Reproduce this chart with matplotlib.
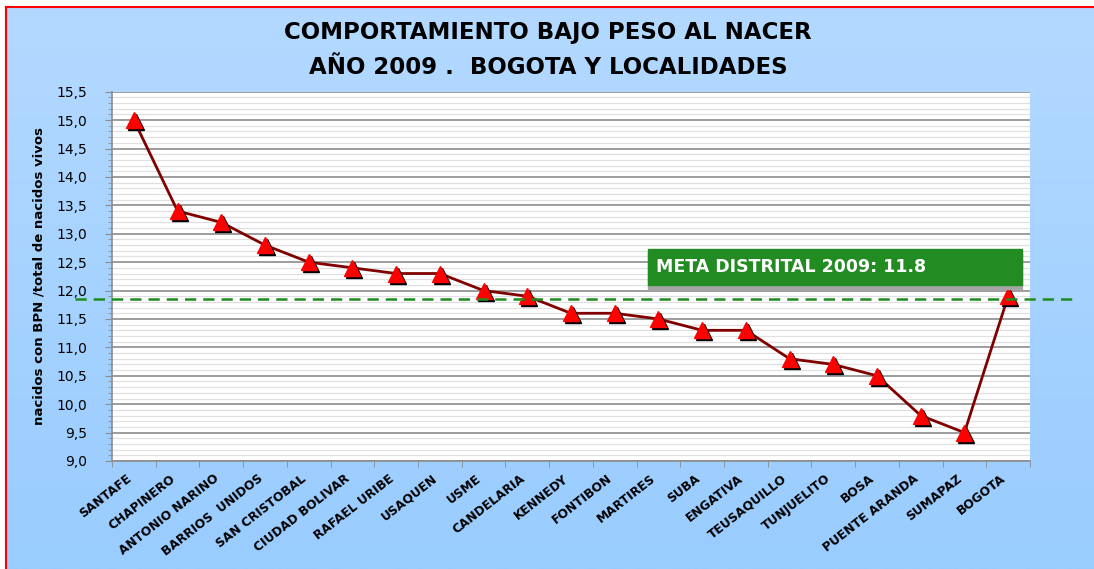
import numpy as np
import matplotlib
matplotlib.use('Agg')
import matplotlib.pyplot as plt
import matplotlib.transforms as mtransforms
from matplotlib.lines import Line2D
from matplotlib.patches import Rectangle

# data
localidades = ['SANTAFE', 'CHAPINERO', 'ANTONIO NARINO', 'BARRIOS  UNIDOS', 'SAN CRISTOBAL',
               'CIUDAD BOLIVAR', 'RAFAEL URIBE', 'USAQUEN', 'USME', 'CANDELARIA', 'KENNEDY',
               'FONTIBON', 'MARTIRES', 'SUBA', 'ENGATIVA', 'TEUSAQUILLO', 'TUNJUELITO', 'BOSA',
               'PUENTE ARANDA', 'SUMAPAZ', 'BOGOTA']
bpn = [15.0, 13.4, 13.2, 12.8, 12.5, 12.4, 12.3, 12.3, 12.0, 11.9, 11.6,
       11.6, 11.5, 11.3, 11.3, 10.8, 10.7, 10.5, 9.8, 9.5, 11.9]
meta = 11.85
meta_text = 'META DISTRITAL 2009: 11.8'
y_ticks = [9.0, 9.5, 10.0, 10.5, 11.0, 11.5, 12.0, 12.5, 13.0, 13.5, 14.0, 14.5, 15.0, 15.5]

W, H = 1094, 569
fig = plt.figure(figsize=(W / 100, H / 100), dpi=100, facecolor='white')

# background gradient
bg = fig.add_axes([6 / W, 0, 1 - 6 / W, 1 - 7 / H], zorder=-5)
grad = np.linspace(0, 1, 256).reshape(-1, 1)
cmap = matplotlib.colors.LinearSegmentedColormap.from_list('bg', ['#B3D9FF', '#99CCFF'])
bg.imshow(grad, aspect='auto', cmap=cmap, extent=[0, 1, 0, 1])
bg.set_axis_off()
fig.add_artist(Line2D([6 / W, 1.01], [1 - 6.5 / H, 1 - 6.5 / H], color='red', lw=1.5))
fig.add_artist(Line2D([6 / W, 6 / W], [-0.01, 1 - 6.5 / H], color='red', lw=1.5))

ax = fig.add_axes([112 / W, 1 - 461 / H, (1030 - 112) / W, (461 - 91.7) / H])
ax.set_facecolor('white')
x = np.arange(len(localidades))
ax.set_xlim(-0.5, len(localidades) - 0.5)
ax.set_ylim(9.0, 15.5)

# grid
ax.set_yticks(y_ticks)
ax.set_yticks(np.arange(9.0, 15.51, 0.1), minor=True)
ax.grid(True, which='major', axis='y', color='#8c8c8c', lw=1.2, zorder=0)
ax.grid(True, which='minor', axis='y', color='#e0e0e0', lw=0.9, zorder=0)
ax.set_axisbelow(True)
ax.set_yticklabels([f'{v:.1f}'.replace('.', ',') for v in y_ticks], fontsize=10)
ax.tick_params(axis='y', which='both', direction='out', color='#8c8c8c')
ax.tick_params(axis='y', which='major', length=5, pad=13)
ax.tick_params(axis='y', which='minor', length=3)

ax.set_xticks(x)
ax.set_xticks(np.arange(-0.5, len(localidades), 1.0), minor=True)
ax.set_xticklabels(localidades, rotation=38, ha='right', rotation_mode='anchor',
                   fontsize=8.8, fontweight='bold')
ax.tick_params(axis='x', which='major', length=0, pad=8)
ax.tick_params(axis='x', which='minor', length=4, color='#8c8c8c')
shift = mtransforms.ScaledTranslation(-8 / 100, 0, fig.dpi_scale_trans)
for lab in ax.get_xticklabels():
    lab.set_transform(lab.get_transform() + shift)

for s in ['top', 'right']:
    ax.spines[s].set_visible(False)
for s in ['left', 'bottom']:
    ax.spines[s].set_color('#8c8c8c')
    ax.spines[s].set_linewidth(1.2)

# series
ax.plot(x, bpn, color='#800000', lw=2, zorder=3)
shadow = mtransforms.offset_copy(ax.transData, fig=fig, x=2, y=-2, units='dots')
ax.plot(x, bpn, ls='none', marker='^', ms=12, color='black', transform=shadow, zorder=4)
ax.plot(x, bpn, ls='none', marker='^', ms=12, color='red', mec='red', zorder=5)

# meta line
ax.plot([-1.35, 21.46], [meta, meta], color='#1E8C1E', lw=1.8, ls=(0, (4.5, 2.8)),
        clip_on=False, zorder=6)

# green label box
bx0, bx1 = (648 - 112) / 918, (1022 - 112) / 918
by0, by1 = (461 - 285) / 369.3, (461 - 249) / 369.3
ax.add_patch(Rectangle((bx0, by0 - 0.01), bx1 - bx0, by1 - by0, transform=ax.transAxes,
                       color='#A6A6A6', zorder=6))
ax.add_patch(Rectangle((bx0, by0), bx1 - bx0, by1 - by0, transform=ax.transAxes,
                       color='#228B22', zorder=7))
ax.text(bx0 + 0.009, (by0 + by1) / 2, meta_text, transform=ax.transAxes, color='white',
        fontsize=12.5, fontweight='bold', va='center', ha='left', zorder=8)

ax.set_ylabel('nacidos con BPN /total de nacidos vivos', fontsize=9.5, fontweight='bold',
              labelpad=8)

fig.text(548 / W, 1 - 33 / H, 'COMPORTAMIENTO BAJO PESO AL NACER', ha='center', va='center',
         fontsize=16.5, fontweight='bold')
fig.text(548 / W, 1 - 67 / H, 'AÑO 2009 .  BOGOTA Y LOCALIDADES', ha='center', va='center',
         fontsize=16.5, fontweight='bold')

fig.savefig('out.png', dpi=100)
